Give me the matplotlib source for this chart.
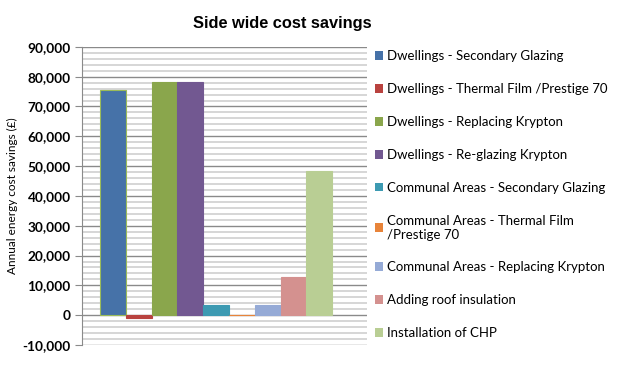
import matplotlib.pyplot as plt
from matplotlib.patches import Patch
from matplotlib.ticker import MultipleLocator, FuncFormatter

series = [
    "Dwellings - Secondary Glazing",
    "Dwellings - Thermal Film /Prestige 70",
    "Dwellings - Replacing Krypton",
    "Dwellings - Re-glazing Krypton",
    "Communal Areas - Secondary Glazing",
    "Communal Areas - Thermal Film\n/Prestige 70",
    "Communal Areas - Replacing Krypton",
    "Adding roof insulation",
    "Installation of CHP",
]
savings = [75500, -1100, 78200, 78200, 3300, 0, 3300, 12700, 48400]
colors = ["#4672A8", "#B9423F", "#8AA64C", "#725891", "#3D9AB2",
          "#E8843A", "#95AAD6", "#D4918F", "#B9CE94"]

fig = plt.figure(figsize=(6.2, 3.75), dpi=100)
ax = fig.add_axes([0.132, 0.08, 0.46, 0.795])

for i, (v, c) in enumerate(zip(savings, colors)):
    ec = "#9BBB59" if i == 0 else c
    ax.bar(i, v, width=1.0, color=c, edgecolor=ec, linewidth=0.8, zorder=3)

ax.set_xlim(-1.2, 9.85)
ax.set_ylim(-10000, 90000)
ax.yaxis.set_major_locator(MultipleLocator(10000))
ax.yaxis.set_minor_locator(MultipleLocator(2000))
ax.yaxis.set_major_formatter(FuncFormatter(lambda v, p: f"{int(v):,}"))
ax.grid(axis="y", which="minor", color="#CFCFCF", linewidth=1.2, zorder=0)
ax.grid(axis="y", which="major", color="#8A8A8A", linewidth=1.0, zorder=1)
ax.set_xticks([])
for s in ["top", "right", "bottom"]:
    ax.spines[s].set_visible(False)
ax.spines["left"].set_color("#8A8A8A")
ax.tick_params(axis="y", which="major", length=5, color="#8A8A8A",
               labelsize=9.8, pad=3)
ax.tick_params(axis="y", which="minor", length=0)
for lab in ax.get_yticklabels():
    lab.set_fontfamily("Lato")
    lab.set_fontweight("bold")

ax.set_ylabel("Annual energy cost savings (£)", fontsize=8.5, family="Lato", labelpad=3)
fig.text(0.455, 0.925, "Side wide cost savings", ha="center", fontsize=11.8,
         fontweight="bold", family="Liberation Sans")

handles = [Patch(facecolor=c, edgecolor="none") for c in colors]
leg = fig.legend(handles, series, loc="upper left", bbox_to_anchor=(0.596, 0.88),
                 frameon=False, prop={"family": "Lato", "size": 9.5},
                 handlelength=0.65, handleheight=0.65, handletextpad=0.3,
                 labelspacing=1.58, borderaxespad=0)

fig.savefig("out.png", dpi=100)
